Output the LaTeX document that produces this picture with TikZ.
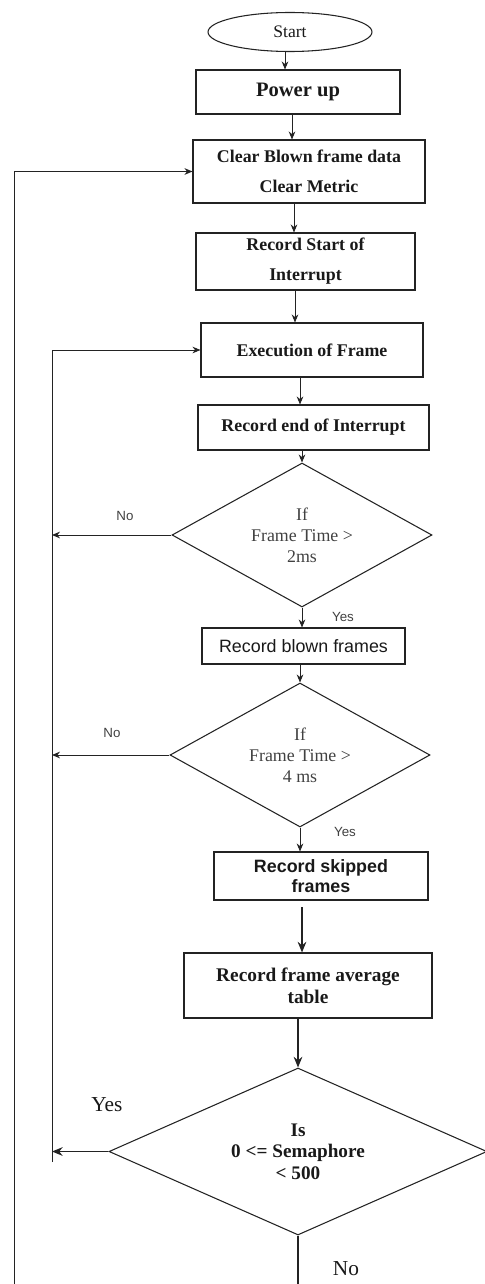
\documentclass[tikz,border=0pt]{standalone}
\usepackage{fontspec}
\setmainfont{Liberation Serif}
\newfontfamily\arialfont{Liberation Sans}
\usepackage{tikz}
\usetikzlibrary{arrows.meta,positioning,shapes.geometric,calc}
\definecolor{flowline}{RGB}{35,35,35}
\definecolor{flowtext}{RGB}{25,25,25}
\definecolor{condtext}{RGB}{65,65,65}
\newcommand{\boxfont}{\fontsize{13.4}{22.5}\selectfont\bfseries}
\newcommand{\condfont}{\fontsize{13.4}{15.75}\selectfont}

\begin{document}
\begin{tikzpicture}[x=0.75pt,y=-0.75pt,
  every node/.style={text=flowtext},
  stepbox/.style={draw=flowline, line width=0.8pt, rectangle, inner sep=0pt, align=center, font=\boxfont},
  termbox/.style={draw=flowline, line width=0.8pt, ellipse, inner sep=0pt, font=\fontsize{13.2}{16}\selectfont},
  condbox/.style={draw=flowline, line width=0.8pt, diamond, inner sep=0pt, align=center, text=condtext, font=\condfont},
  flow/.style={draw=flowline, line width=0.7pt, -{Stealth[length=6pt,width=5pt]}},
  heavyflow/.style={draw=flowline, line width=1pt, -{Stealth[length=8pt,width=6.5pt]}},
  plain/.style={draw=flowline, line width=0.8pt},
  smalllbl/.style={font=\arialfont\fontsize{10}{12}\selectfont, text=condtext},
  biglbl/.style={font=\fontsize{16}{18}\selectfont}]
\useasboundingbox (0,0) rectangle (485,1284);

% main column
\node[termbox, minimum width=123pt, minimum height=29.25pt] (start) at (290,32) {Start};
\node[stepbox, minimum width=153pt, minimum height=33pt, font=\fontsize{15.4}{18}\selectfont\bfseries] (power) at (298,92) {Power up};
\node[stepbox, minimum width=174pt, minimum height=47.25pt] (clear) at (309,171.5) {Clear Blown frame data\\Clear Metric};
\node[stepbox, minimum width=164.25pt, minimum height=42.75pt] (recstart) at (305.5,261.5) {Record Start of\\Interrupt};
\node[stepbox, minimum width=166.5pt, minimum height=40.5pt] (exec) at (312,350) {Execution of Frame};
\node[stepbox, minimum width=173.25pt, minimum height=33.75pt] (recend) at (313.5,427.5) {Record end of Interrupt};
\node[condbox, minimum width=195pt, minimum height=108pt, aspect=1.8] (twoms) at (302,535) {If\\Frame Time >\\2ms};
\node[stepbox, minimum width=152.25pt, minimum height=27pt, font=\arialfont\fontsize{13.4}{16}\selectfont] (blown) at (303.5,646) {Record blown frames};
\node[condbox, minimum width=195pt, minimum height=108pt, aspect=1.8] (fourms) at (300,755) {If\\Frame Time >\\4 ms};
\node[stepbox, minimum width=160.5pt, minimum height=36pt, font=\arialfont\fontsize{13.4}{15}\selectfont\bfseries] (skipped) at (321,876) {Record skipped\\frames};
\node[stepbox, minimum width=186pt, minimum height=48.75pt, font=\fontsize{14.5}{16.5}\selectfont\bfseries] (average) at (308,985.5) {Record frame average\\table};
\node[condbox, minimum width=283.5pt, minimum height=125.25pt, aspect=2.26, text=flowtext, font=\fontsize{14.4}{16}\selectfont\bfseries] (sema) at (298,1151.5) {Is\\0 <= Semaphore\\< 500};

% loop rails
\coordinate (outerbot) at (14,1284);
\coordinate (innerbot) at (52,1162);
\coordinate (exitbot) at (302,1284);

% downward arrows
\foreach \a/\b/\x in {start/power/285, power/clear/292, clear/recstart/294, recstart/exec/295,
    exec/recend/300, recend/twoms/302, twoms/blown/302, blown/fourms/300,
    fourms/skipped/300} {
  \coordinate (col\a) at (\x,0);
  \draw[flow] (col\a |- \a.south) -- (col\a |- \b.north);
}
\coordinate (colskipped) at (302,0);
\draw[heavyflow] ([yshift=-5pt]colskipped |- skipped.south) -- (colskipped |- average.north);
\draw[heavyflow] (average.south -| sema.north) -- (sema.north);
\draw[plain] (sema.south) -- (sema.south |- exitbot);

% back edges
\draw[flow] (outerbot) |- (clear.west);
\draw[flow] (innerbot) |- (exec.west);
\draw[flow] (twoms.west) -- (twoms.west -| innerbot);
\draw[flow] (fourms.west) -- (fourms.west -| innerbot);
\draw[heavyflow] (sema.west) -- (sema.west -| innerbot);

% branch labels
\node[smalllbl] (notwo) at (125,516) {No};
\node[smalllbl] (yestwo) at (343,617) {Yes};
\node[smalllbl] (nofour) at (112,733) {No};
\node[smalllbl] (yesfour) at (345,832) {Yes};
\node[biglbl] (yessema) at (107,1105) {Yes};
\node[biglbl] (nosema) at (346,1269) {No};
\end{tikzpicture}
\end{document}
